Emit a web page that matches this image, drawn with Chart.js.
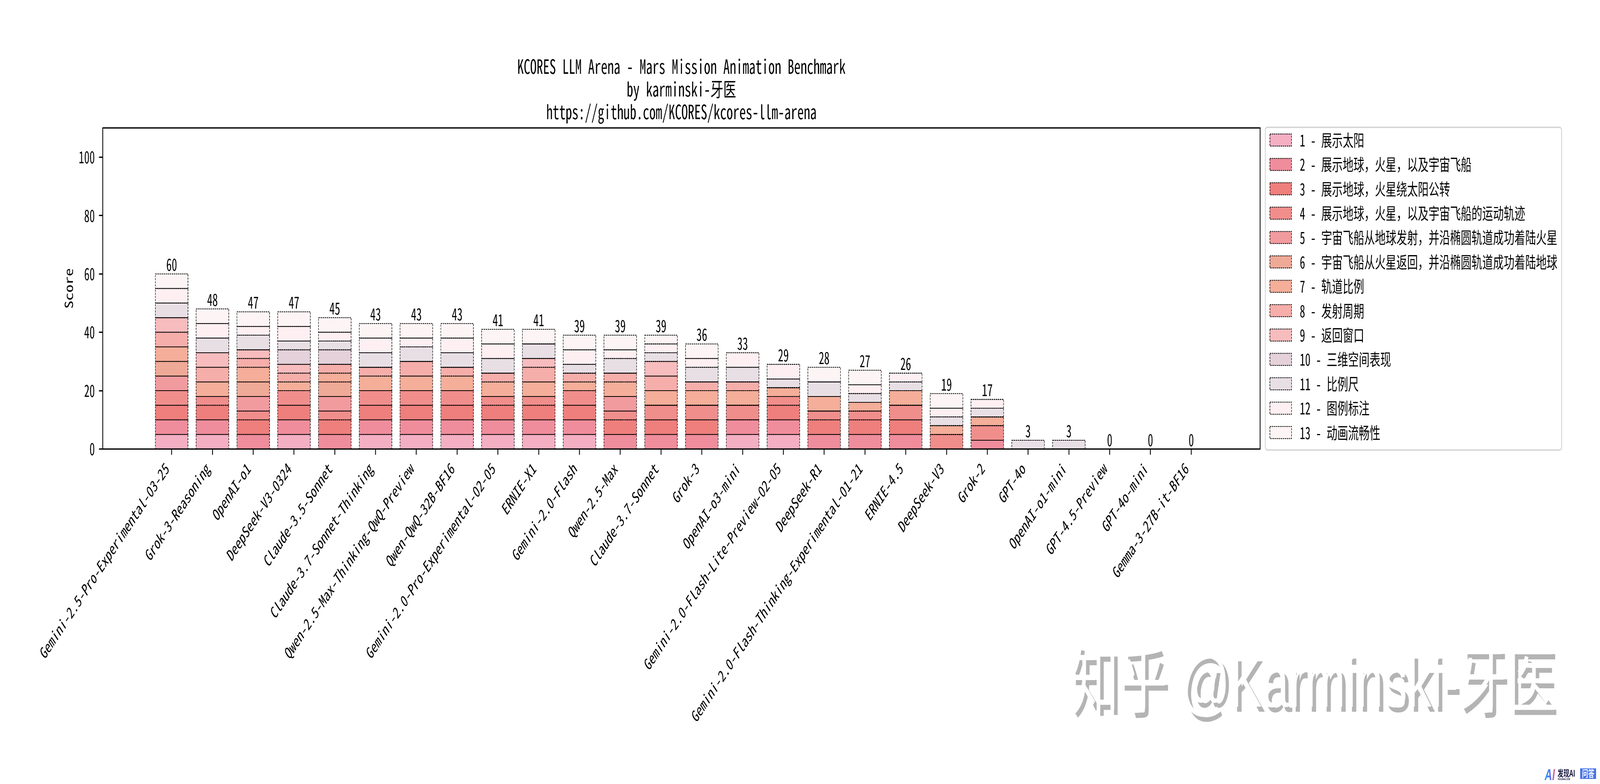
<!DOCTYPE html>
<html>
<head>
<meta charset="utf-8">
<title>KCORES LLM Arena - Mars Mission Animation Benchmark</title>
<script src="https://cdn.jsdelivr.net/npm/chart.js@4"></script>
<style>
  html, body { margin: 0; padding: 0; background: #fff; overflow: hidden; }
</style>
</head>
<body>
<canvas id="chart" width="6214" height="2007" style="display:block;width:100vw;height:100vh"></canvas>
<script>
// ---- Data ----
const categories = [
  "Gemini-2.5-Pro-Experimental-03-25", "Grok-3-Reasoning", "OpenAI-o1", "DeepSeek-V3-0324",
  "Claude-3.5-Sonnet", "Claude-3.7-Sonnet-Thinking", "Qwen-2.5-Max-Thinking-QwQ-Preview",
  "Qwen-QwQ-32B-BF16", "Gemini-2.0-Pro-Experimental-02-05", "ERNIE-X1", "Gemini-2.0-Flash",
  "Qwen-2.5-Max", "Claude-3.7-Sonnet", "Grok-3", "OpenAI-o3-mini",
  "Gemini-2.0-Flash-Lite-Preview-02-05", "DeepSeek-R1", "Gemini-2.0-Flash-Thinking-Experimental-01-21",
  "ERNIE-4.5", "DeepSeek-V3", "Grok-2", "GPT-4o", "OpenAI-o1-mini", "GPT-4.5-Preview",
  "GPT-4o-mini", "Gemma-3-27B-it-BF16",
];

const series1  = [5,5,0,5,0,5,5,5,5,5,5,0,0,0,5,5,0,0,0,0,0,0,0,0,0,0];
const series2  = [5,5,5,5,5,5,5,5,5,5,5,5,5,5,5,5,5,5,5,0,3,0,0,0,0,0];
const series3  = [5,5,5,5,5,5,5,5,5,5,5,5,5,5,0,5,5,5,5,0,0,0,0,0,0,0];
const series4  = [5,3,3,5,3,5,5,5,3,3,5,3,5,5,5,3,3,3,5,5,5,0,0,0,0,0];
const series5  = [5,0,5,0,5,0,0,0,0,0,0,5,0,0,0,0,0,0,0,0,0,0,0,0,0,0];
const series6  = [5,0,5,0,5,0,0,0,0,0,0,0,0,0,0,0,0,0,0,0,0,0,0,0,0,0];
const series7  = [5,5,5,3,3,5,5,5,5,5,3,5,5,5,5,3,5,3,5,3,3,0,0,0,0,0];
const series8  = [5,5,3,3,3,3,5,3,3,5,3,3,5,3,3,0,0,0,0,0,0,0,0,0,0,0];
const series9  = [5,5,3,3,0,0,0,0,0,3,0,0,5,0,0,0,0,0,0,0,0,0,0,0,0,0];
const series10 = [0,0,0,5,5,0,0,0,0,0,0,0,0,0,0,0,0,0,0,0,0,0,0,0,0,0];
const series11 = [5,5,5,3,3,5,5,5,5,5,3,5,3,5,5,3,5,3,3,3,3,3,3,0,0,0];
const series12 = [5,5,3,5,3,5,3,5,5,0,5,3,3,3,5,5,0,3,3,3,3,0,0,0,0,0];
const series13 = [5,5,5,5,5,5,5,5,5,5,5,5,3,5,0,0,5,5,0,5,0,0,0,0,0,0];

const seriesValues = [series1, series2, series3, series4, series5, series6, series7,
  series8, series9, series10, series11, series12, series13];

const seriesLabels = [
  "1 - 展示太阳",
  "2 - 展示地球，火星，以及宇宙飞船",
  "3 - 展示地球，火星绕太阳公转",
  "4 - 展示地球，火星，以及宇宙飞船的运动轨迹",
  "5 - 宇宙飞船从地球发射，并沿椭圆轨道成功着陆火星",
  "6 - 宇宙飞船从火星返回，并沿椭圆轨道成功着陆地球",
  "7 - 轨道比例",
  "8 - 发射周期",
  "9 - 返回窗口",
  "10 - 三维空间表现",
  "11 - 比例尺",
  "12 - 图例标注",
  "13 - 动画流畅性",
];

const seriesColors = ["#f4afc3", "#ef8d9c", "#ee7f7c", "#f08e8c", "#f29b9f", "#efa997", "#f4ae99",
  "#f6aeaa", "#f7bcbd", "#e4d1d9", "#e8dfe5", "#fdeff2", "#fdf5f5"];

const yTicks = [0, 20, 40, 60, 80, 100];
const totals = categories.map((_, i) => seriesValues.reduce((sum, s) => sum + s[i], 0));

// ---- Fonts ----
const MONO = '"Noto Sans Mono CJK SC", "DejaVu Sans Mono", "Noto Sans CJK SC", monospace';
const CJK = '"Noto Sans CJK SC"';
const px = (size, family = MONO, weight = "normal") => `${weight} ${size}px ${family}`;
const DASH = [5.4, 2.6];

// ---- Plugins ----
// Chart.js bars have no dashed border, so stroke them here from the bar elements
const dashedBars = {
  id: "dashedBars",
  afterDatasetsDraw(chart) {
    const { ctx } = chart;
    ctx.save();
    ctx.strokeStyle = "#000";
    ctx.lineWidth = 2;
    ctx.setLineDash(DASH);
    chart.data.datasets.forEach((_, d) => {
      chart.getDatasetMeta(d).data.forEach(bar => {
        const b = bar.getProps(["x", "y", "base", "width"], true);
        ctx.strokeRect(b.x - b.width / 2, b.y, b.width, b.base - b.y);
      });
    });
    ctx.restore();
  }
};

const barTotals = {
  id: "barTotals",
  afterDatasetsDraw(chart) {
    const { ctx, scales: { x, y } } = chart;
    ctx.save();
    ctx.fillStyle = "#000";
    ctx.font = px(41.7);
    ctx.textAlign = "center";
    ctx.textBaseline = "alphabetic";
    totals.forEach((total, i) => ctx.fillText(String(total), x.getPixelForValue(i), y.getPixelForValue(total) - 8));
    ctx.restore();
  }
};

const frame = {
  id: "frame",
  afterDraw(chart) {
    const { ctx, chartArea: a } = chart;
    ctx.save();
    ctx.strokeStyle = "#000";
    ctx.lineWidth = 3.3;
    ctx.strokeRect(a.left, a.top, a.right - a.left, a.bottom - a.top);
    ctx.restore();
  }
};

const sideLegend = {
  id: "sideLegend",
  afterDraw(chart) {
    const { ctx } = chart;
    ctx.save();
    ctx.strokeStyle = "#d4d4d4";
    ctx.lineWidth = 3.3;
    ctx.beginPath();
    ctx.roundRect(4914, 326, 1151, 826, 8);
    ctx.stroke();
    ctx.textBaseline = "middle";
    ctx.font = px(41.7);
    seriesLabels.forEach((label, i) => {
      const top = 343 + i * 62.4;
      ctx.fillStyle = seriesColors[i];
      ctx.fillRect(4932, top, 84, 31);
      ctx.strokeStyle = "#000";
      ctx.lineWidth = 2;
      ctx.setLineDash(DASH);
      ctx.strokeRect(4932, top, 84, 31);
      ctx.setLineDash([]);
      ctx.fillStyle = "#000";
      ctx.fillText(label, 5048, top + 16);
    });
    ctx.restore();
  }
};

const watermark = {
  id: "watermark",
  afterDraw(chart) {
    const { ctx } = chart;
    const text = "知乎 @Karminski-牙医";
    ctx.save();
    ctx.textBaseline = "alphabetic";
    ctx.font = px(188, `"Liberation Sans", ${CJK}`);
    ctx.fillStyle = "#b4b4b4";
    ctx.fillText(text, 4170, 1822);
    ctx.fillStyle = "#fff";
    ctx.fillText(text, 4156.5, 1808.5);

    // badge, bottom right corner
    const logo = ctx.createLinearGradient(5998, 0, 6039, 0);
    logo.addColorStop(0, "#22a7f0");
    logo.addColorStop(0.55, "#5a6cf0");
    logo.addColorStop(1, "#e86a8e");
    ctx.fillStyle = logo;
    ctx.font = px(40, '"Liberation Sans"', "italic bold");
    ctx.fillText("AI", 5999, 1997);
    ctx.fillStyle = "#16163f";
    ctx.font = px(23, CJK, "bold");
    ctx.fillText("发现AI", 6049, 1988);
    ctx.font = px(6.5, '"Liberation Sans"', "bold");
    ctx.fillText("FAXIANAI.COM", 6050, 1997);
    ctx.fillStyle = "#4a74e8";
    ctx.fillRect(6137, 1967, 62, 27);
    ctx.fillStyle = "#fff";
    ctx.font = px(24, CJK, "bold");
    ctx.fillText("问答", 6144, 1989);
    ctx.restore();
  }
};

// ---- Chart ----
new Chart(document.getElementById("chart"), {
  type: "bar",
  data: {
    datasets: seriesValues.map((values, i) => ({
      label: seriesLabels[i],
      data: values.map((v, x) => ({ x, y: v })),
      backgroundColor: seriesColors[i],
      borderWidth: 0,
      barPercentage: 0.8,
      categoryPercentage: 1,
    }))
  },
  options: {
    responsive: false,
    animation: false,
    devicePixelRatio: 1,
    layout: { padding: { right: 1320, left: 0, top: 0, bottom: 0 } },
    plugins: {
      legend: { display: false },
      tooltip: { enabled: false },
      title: {
        display: true,
        fullSize: false,
        text: [
          "KCORES LLM Arena - Mars Mission Animation Benchmark",
          "by karminski-牙医",
          "https://github.com/KCORES/kcores-llm-arena",
        ],
        color: "#000",
        font: { family: MONO, size: 50, weight: "normal", lineHeight: 1.16 },
        padding: { top: 141, bottom: 12.5 },
      }
    },
    scales: {
      x: {
        type: "linear",
        stacked: true,
        offset: false,
        min: -1.69,
        max: 26.69,
        afterBuildTicks: s => { s.ticks = categories.map((_, i) => ({ value: i })); },
        afterFit: s => { s.height = 857.5; },
        border: { display: false },
        grid: { drawOnChartArea: false, tickLength: 14.6, tickWidth: 3.3, tickColor: "#000", offset: false },
        ticks: {
          autoSkip: false,
          minRotation: 45,
          maxRotation: 45,
          color: "#000",
          padding: 10,
          labelOffset: -18,
          font: { family: MONO, size: 41.7 },
          callback: v => categories[v],
        },
      },
      y: {
        stacked: true,
        min: 0,
        max: 110,
        afterBuildTicks: s => { s.ticks = yTicks.map(value => ({ value })); },
        afterFit: s => { s.width = 399; },
        border: { display: false },
        grid: { drawOnChartArea: false, tickLength: 14.6, tickWidth: 3.3, tickColor: "#000" },
        ticks: { color: "#000", padding: 16, font: { family: MONO, size: 41.7 } },
        title: {
          display: true,
          text: "Score",
          color: "#000",
          font: { family: MONO, size: 41.7 },
          padding: { top: 242, bottom: 0 },
        },
      }
    }
  },
  plugins: [dashedBars, barTotals, frame, sideLegend, watermark]
});
</script>
</body>
</html>
